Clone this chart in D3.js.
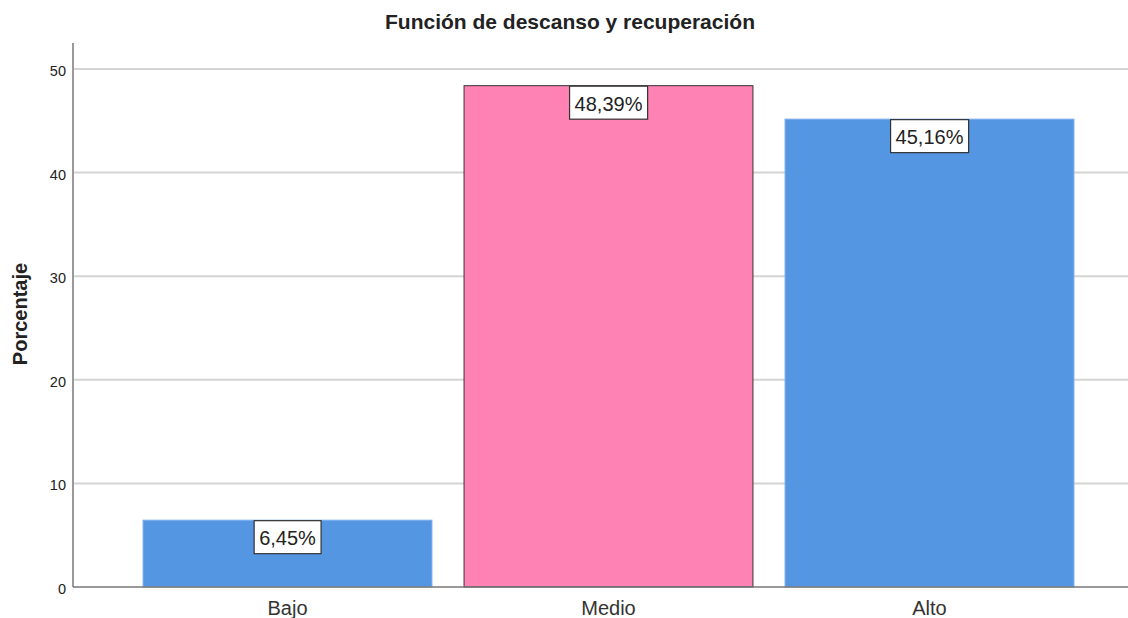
<!DOCTYPE html>
<html lang="es">
<head>
    <meta charset="UTF-8">
    <title>Función de descanso y recuperación</title>
    <script src="https://d3js.org/d3.v7.min.js"></script>
    <style>
        body { margin: 0; background: #fff; }
        text { font-family: "Liberation Sans", Arial, sans-serif; fill: #222; }
        .title { font-weight: bold; font-size: 21px; }
        .ytitle { font-weight: bold; font-size: 20px; }
        .tick text { font-size: 14.5px; }
        .cat { font-size: 20px; fill: #333; }
        .grid line { stroke: #d4d4d4; stroke-width: 2px; }
        .lbl { font-size: 20px; }
    </style>
</head>
<body>
<div id="chart"></div>
<script>
    // data
    const categories = ["Bajo", "Medio", "Alto"];
    const percents = [6.45, 48.39, 45.16];
    const labels = ["6,45%", "48,39%", "45,16%"];
    const highlighted = ["Medio"];
    const yTicks = [0, 10, 20, 30, 40, 50];

    const width = 1128, height = 618;
    const plotLeft = 73, plotBottom = 587, plotTop = 43;

    const svg = d3.select("#chart").append("svg")
        .attr("width", width)
        .attr("height", height);

    const x = d3.scaleBand()
        .domain(categories)
        .range([127, 1090])
        .paddingInner(0.1)
        .paddingOuter(0.05);

    const y = d3.scaleLinear()
        .domain([0, 50])
        .range([plotBottom, 69]);

    // gridlines
    svg.append("g")
        .attr("class", "grid")
        .selectAll("line")
        .data(yTicks.filter(d => d > 0))
        .enter().append("line")
        .attr("x1", plotLeft)
        .attr("x2", width)
        .attr("y1", d => y(d))
        .attr("y2", d => y(d));

    // y axis
    const yAxis = svg.append("g")
        .attr("transform", `translate(${plotLeft},0)`)
        .call(d3.axisLeft(y).tickValues(yTicks).tickSize(0).tickPadding(7));
    yAxis.select(".domain").remove();
    yAxis.selectAll(".tick text").attr("dy", "0.45em");

    svg.append("line")
        .attr("x1", plotLeft).attr("x2", plotLeft)
        .attr("y1", plotTop).attr("y2", plotBottom)
        .attr("stroke", "#999").attr("stroke-width", 2);

    // bars
    svg.append("g")
        .selectAll("rect")
        .data(categories)
        .enter().append("rect")
        .attr("x", d => x(d))
        .attr("y", (d, i) => y(percents[i]))
        .attr("width", x.bandwidth())
        .attr("height", (d, i) => y(0) - y(percents[i]))
        .attr("fill", d => highlighted.includes(d) ? "#ff82b4" : "#5596e3")
        .attr("stroke", d => highlighted.includes(d) ? "#333" : "#7aaef0")
        .attr("stroke-width", 1);

    // x baseline
    svg.append("line")
        .attr("x1", plotLeft).attr("x2", width)
        .attr("y1", plotBottom).attr("y2", plotBottom)
        .attr("stroke", "#777").attr("stroke-width", 1.5);

    // category labels
    svg.append("g")
        .selectAll("text")
        .data(categories)
        .enter().append("text")
        .attr("class", "cat")
        .attr("x", d => x(d) + x.bandwidth() / 2)
        .attr("y", 615)
        .attr("text-anchor", "middle")
        .text(d => d);

    // value labels with boxes
    const lbl = svg.append("g")
        .selectAll("g")
        .data(categories)
        .enter().append("g");

    lbl.append("text")
        .attr("class", "lbl")
        .attr("x", d => x(d) + x.bandwidth() / 2)
        .attr("y", (d, i) => y(percents[i]) + 25)
        .attr("text-anchor", "middle")
        .text((d, i) => labels[i]);

    lbl.each(function (d, i) {
        const g = d3.select(this);
        const b = g.select("text").node().getBBox();
        g.insert("rect", "text")
            .attr("x", b.x - 5)
            .attr("y", y(percents[i]) + 0.5)
            .attr("width", b.width + 10)
            .attr("height", 33)
            .attr("fill", "#fff")
            .attr("stroke", "#333")
            .attr("stroke-width", 1.2);
    });

    // titles
    svg.append("text")
        .attr("class", "title")
        .attr("x", 570)
        .attr("y", 29)
        .attr("text-anchor", "middle")
        .text("Función de descanso y recuperación");

    svg.append("text")
        .attr("class", "ytitle")
        .attr("transform", "translate(27,314) rotate(-90)")
        .attr("text-anchor", "middle")
        .text("Porcentaje");
</script>
</body>
</html>
